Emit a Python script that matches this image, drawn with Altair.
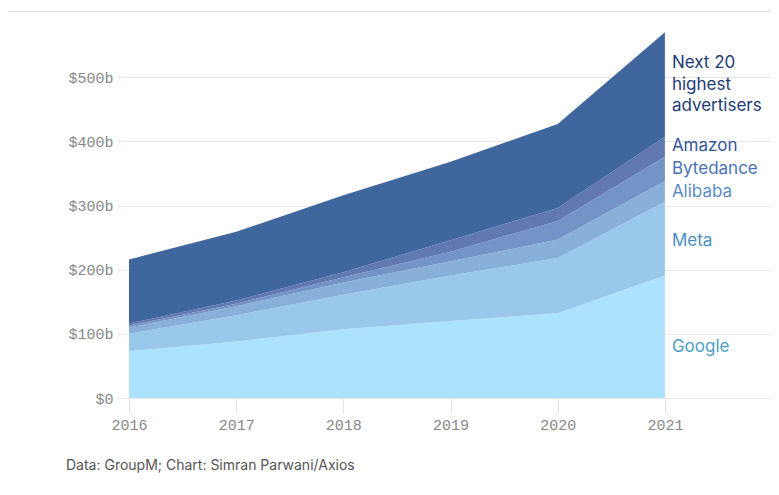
import altair as alt
import pandas as pd

years = [2016, 2017, 2018, 2019, 2020, 2021]
series_names = ["Google", "Meta", "Alibaba", "Bytedance", "Amazon", "Next 20 highest advertisers"]
google = [73, 88, 107, 120, 132, 191]
meta = [27, 41, 54, 71, 86, 115]
alibaba = [10, 14, 19, 22, 29, 32]
bytedance = [3, 4, 8, 15, 29, 38]
amazon = [3, 5, 8, 18, 20, 31]
next20 = [100, 107, 120, 122, 131, 163]
area_colors = ["#a5e0fc", "#91c3e9", "#7fa9d6", "#688ac1", "#546da9", "#2f5a96"]

label_texts = ["Google", "Meta", "Alibaba", "Bytedance", "Amazon", "Next 20\nhighest\nadvertisers"]
label_y = [79, 244, 321, 357, 392, 522]
label_colors = ["#4d9fc6", "#4a8fbf", "#5b8cc6", "#4a73b5", "#355899", "#1d3c78"]

y_ticks = [0, 100, 200, 300, 400, 500]
footer = "Data: GroupM; Chart: Simran Parwani/Axios"

values = [google, meta, alibaba, bytedance, amazon, next20]
rows = []
for i, name in enumerate(series_names):
    for yr, v in zip(years, values[i]):
        rows.append({"year": yr, "series": name, "value": v, "order": i})
df = pd.DataFrame(rows)

lab_df = pd.DataFrame({
    "year": [years[-1]] * len(label_texts),
    "text": label_texts,
    "y": label_y,
    "tcolor": label_colors,
})

W = 642
xscale = alt.Scale(domain=[2016, 2021.99], nice=False)
yscale = alt.Scale(domain=[0, 600], nice=False)

area = alt.Chart(df).mark_area(opacity=0.92).encode(
    x=alt.X("year:Q", scale=xscale,
            axis=alt.Axis(values=years, format="d", grid=False, domain=False, labelFlush=False,
                          tickColor="#e3e3e3", tickSize=15, labelFont="Liberation Mono",
                          labelFontSize=15, labelColor="#888888", labelPadding=4, title=None)),
    y=alt.Y("value:Q", stack="zero", scale=yscale,
            axis=alt.Axis(values=y_ticks, domain=False, gridColor="#e6e6e6", tickColor="#e6e6e6",
                          tickSize=12, labelFont="Liberation Mono", labelFontSize=15,
                          labelColor="#888888", labelPadding=4, title=None,
                          labelExpr="datum.value == 0 ? '$0' : '$' + datum.value + 'b'")),
    color=alt.Color("series:N", scale=alt.Scale(domain=series_names, range=area_colors), legend=None),
    order=alt.Order("order:Q", sort="ascending"),
)

labels = alt.Chart(lab_df).mark_text(
    align="left", baseline="middle", dx=7, font="Inter", fontSize=17, lineBreak="\n", lineHeight=21.5
).encode(
    x=alt.X("year:Q", scale=xscale),
    y=alt.Y("y:Q", scale=yscale),
    text="text:N",
    color=alt.Color("tcolor:N", scale=None),
)

one = pd.DataFrame({"a": [0]})
top_rule = alt.Chart(one).mark_rule(color="#e0e0e0", strokeWidth=1).encode(
    x=alt.value(-121), x2=alt.value(W), y=alt.value(-1.5)
)
foot = alt.Chart(pd.DataFrame({"t": [footer]})).mark_text(
    align="left", baseline="middle", font="Inter", fontSize=14, color="#555555"
).encode(x=alt.value(-63), y=alt.value(453), text="t:N")

chart = alt.layer(area, labels, top_rule, foot).properties(
    width=W, height=385,
    autosize=alt.AutoSizeParams(type="none"),
    padding={"left": 121, "top": 5, "right": 0, "bottom": 90},
).configure_view(stroke=None)

chart.save("out.html", embed_options={"renderer": "svg", "actions": False})
